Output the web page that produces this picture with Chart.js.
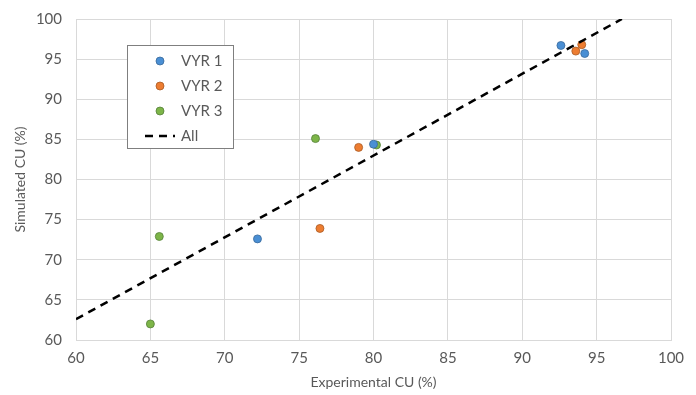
<!DOCTYPE html>
<html>
<head>
<meta charset="utf-8">
<script src="https://cdn.jsdelivr.net/npm/chart.js@4.4.0/dist/chart.umd.min.js"></script>
<style>
  html, body { margin: 0; padding: 0; background: #fff; }
  #wrap { width: 696px; height: 395px; }
</style>
</head>
<body>
<div id="wrap"><canvas id="cuChart" width="696" height="395"></canvas></div>
<script>
// values
const vyr1X = [92.6, 94.2, 72.2, 80.0];
const vyr1Y = [96.7, 95.7, 72.6, 84.4];
const vyr2X = [93.6, 94.0, 79.0, 76.4];
const vyr2Y = [96.0, 96.8, 84.0, 73.9];
const vyr3X = [76.1, 80.2, 65.6, 65.0];
const vyr3Y = [85.1, 84.3, 72.9, 62.0];
const allX = [60, 96.7];
const allY = [62.6, 100];
const seriesNames = ['VYR 1', 'VYR 2', 'VYR 3', 'All'];
const seriesColors = ['#4A8FD4', '#ED7D31', '#7DB548', '#000000'];

const toPoints = (xs, ys) => xs.map((x, i) => ({ x: x, y: ys[i] }));

const fontFam = 'Lato, "Open Sans", sans-serif';
const textGray = '#595959';

// Legend box drawn inside the plot (Excel style)
const boxLegend = {
  id: 'boxLegend',
  afterDraw(chart) {
    const c = chart.ctx;
    const left = 127.5, top = 45.5, w = 106, h = 103;
    c.save();
    c.fillStyle = '#fff';
    c.fillRect(left, top, w, h);
    c.strokeStyle = '#7f7f7f';
    c.lineWidth = 1;
    c.strokeRect(left, top, w, h);
    c.font = '15px ' + fontFam;
    c.textBaseline = 'middle';
    chart.data.datasets.forEach((ds, i) => {
      const y = 61 + i * 25;
      if (ds.showLine) {
        c.strokeStyle = ds.borderColor;
        c.lineWidth = 2.5;
        c.setLineDash([8, 6]);
        c.beginPath();
        c.moveTo(145, y);
        c.lineTo(175, y);
        c.stroke();
        c.setLineDash([]);
      } else {
        c.beginPath();
        c.arc(160, y, 4, 0, Math.PI * 2);
        c.fillStyle = ds.backgroundColor;
        c.fill();
        c.strokeStyle = ds.borderColor;
        c.lineWidth = 0.8;
        c.stroke();
      }
      c.fillStyle = textGray;
      c.fillText(ds.label, 181, y);
    });
    c.restore();
  }
};

const ctx = document.getElementById('cuChart');
new Chart(ctx, {
  type: 'scatter',
  data: {
    datasets: [
      { label: seriesNames[0], data: toPoints(vyr1X, vyr1Y), backgroundColor: seriesColors[0], borderColor: '#3a6a9a', borderWidth: 0.8, pointRadius: 4 },
      { label: seriesNames[1], data: toPoints(vyr2X, vyr2Y), backgroundColor: seriesColors[1], borderColor: '#a85a24', borderWidth: 0.8, pointRadius: 4 },
      { label: seriesNames[2], data: toPoints(vyr3X, vyr3Y), backgroundColor: seriesColors[2], borderColor: '#55803a', borderWidth: 0.8, pointRadius: 4 },
      { label: seriesNames[3], data: toPoints(allX, allY), showLine: true, borderColor: seriesColors[3], borderWidth: 2.5, borderDash: [8, 6], pointRadius: 0, fill: false, order: -1 }
    ]
  },
  options: {
    responsive: false,
    animation: false,
    layout: { padding: { left: 0, right: 25, top: 19, bottom: 0 } },
    plugins: { legend: { display: false }, tooltip: { enabled: false } },
    scales: {
      x: {
        min: 60, max: 100,
        ticks: { stepSize: 5, color: textGray, font: { family: fontFam, size: 15 }, padding: 9 },
        grid: { color: '#d9d9d9', drawTicks: false },
        border: { color: '#d9d9d9' },
        title: { display: true, text: 'Experimental CU (%)', color: textGray, font: { family: fontFam, size: 14 }, padding: { top: 4, bottom: 4 } },
        afterFit: (scale) => { scale.height = 55; scale.paddingLeft = 0; scale.paddingRight = 0; }
      },
      y: {
        min: 60, max: 100,
        ticks: { stepSize: 5, color: textGray, font: { family: fontFam, size: 15 }, padding: 14 },
        grid: { color: '#d9d9d9', drawTicks: false },
        border: { color: '#d9d9d9' },
        title: { display: true, text: 'Simulated CU (%)', color: textGray, font: { family: fontFam, size: 14 }, padding: { top: 12, bottom: 4 } },
        afterFit: (scale) => { scale.width = 76; scale.paddingTop = 0; scale.paddingBottom = 0; }
      }
    }
  },
  plugins: [boxLegend]
});
</script>
</body>
</html>
